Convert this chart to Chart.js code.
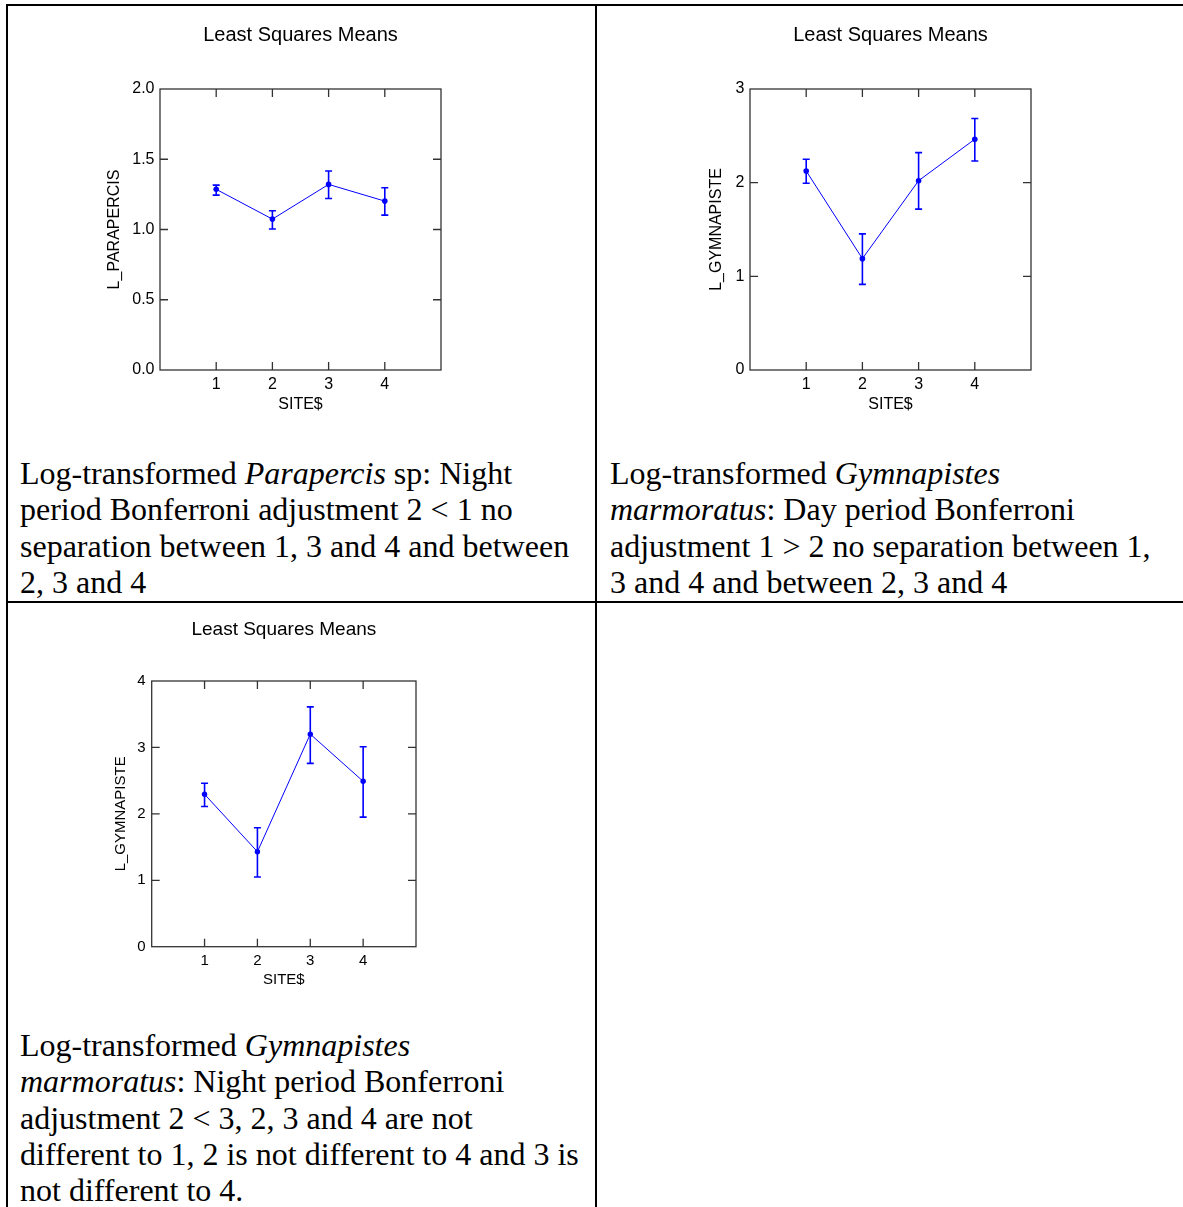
<!DOCTYPE html>
<html>
<head>
<meta charset="utf-8">
<script src="https://cdn.jsdelivr.net/npm/chart.js@4.4.1/dist/chart.umd.min.js"></script>
<style>
  body { margin: 0; background: #fff; }
  #page { position: relative; width: 1183px; height: 1207px; overflow: hidden; }
  .hl, .vl { position: absolute; background: #000; }
  canvas { position: absolute; }
  .note {
    position: absolute;
    font-family: "Liberation Serif", "Times New Roman", serif;
    font-size: 32px;
    line-height: 36.3px;
    white-space: nowrap;
    color: #000;
  }
</style>
</head>
<body>
<div id="page">
  <div class="hl" style="left:6px; top:4px; width:1177px; height:2px;"></div>
  <div class="hl" style="left:6px; top:601px; width:1177px; height:2px;"></div>
  <div class="vl" style="left:6px; top:4px; width:2px; height:1203px;"></div>
  <div class="vl" style="left:595px; top:4px; width:2px; height:1203px;"></div>

  <canvas id="c1" width="580" height="420" style="left:10px; top:10px;"></canvas>
  <canvas id="c2" width="580" height="420" style="left:600px; top:10px;"></canvas>
  <canvas id="c3" width="580" height="400" style="left:10px; top:610px;"></canvas>

  <div class="note" style="left:20px; top:455px;">
    Log-transformed <i>Parapercis</i> sp: Night<br>
    period Bonferroni adjustment 2 &lt; 1 no<br>
    separation between 1, 3 and 4 and between<br>
    2, 3 and 4
  </div>
  <div class="note" style="left:610px; top:455px;">
    Log-transformed <i>Gymnapistes</i><br>
    <i>marmoratus</i>: Day period Bonferroni<br>
    adjustment 1 &gt; 2 no separation between 1,<br>
    3 and 4 and between 2, 3 and 4
  </div>
  <div class="note" style="left:20px; top:1027px;">
    Log-transformed <i>Gymnapistes</i><br>
    <i>marmoratus</i>: Night period Bonferroni<br>
    adjustment 2 &lt; 3, 2, 3 and 4 are not<br>
    different to 1, 2 is not different to 4 and 3 is<br>
    not different to 4.
  </div>
</div>

<script>
const siteTicks = [1, 2, 3, 4];

// L_PARAPERCIS, night
const parMean = [1.286, 1.074, 1.321, 1.202];
const parLow  = [1.245, 1.004, 1.221, 1.102];
const parHigh = [1.316, 1.133, 1.416, 1.297];

// L_GYMNAPISTE, day
const gymDayMean = [2.125, 1.189, 2.021, 2.464];
const gymDayLow  = [1.993, 0.914, 1.718, 2.232];
const gymDayHigh = [2.250, 1.453, 2.321, 2.685];

// L_GYMNAPISTE, night
const gymNightMean = [2.295, 1.43, 3.20, 2.49];
const gymNightLow  = [2.11, 1.05, 2.76, 1.95];
const gymNightHigh = [2.46, 1.79, 3.61, 3.01];

const BLUE = '#0000ff';
const SANS = 'Arial, "Liberation Sans", sans-serif';

// error bars drawn under the points
const errorBars = {
  id: 'errorBars',
  beforeDatasetsDraw(chart) {
    const ctx = chart.ctx;
    const xs = chart.scales.x, ys = chart.scales.y;
    chart.data.datasets.forEach(ds => {
      if (!ds.errLow) return;
      ctx.save();
      ctx.strokeStyle = BLUE;
      ctx.lineWidth = 1.6;
      ds.data.forEach((p, i) => {
        const x = xs.getPixelForValue(p.x);
        const y1 = ys.getPixelForValue(ds.errLow[i]);
        const y2 = ys.getPixelForValue(ds.errHigh[i]);
        ctx.beginPath();
        ctx.moveTo(x, y1); ctx.lineTo(x, y2);
        ctx.moveTo(x - 3.5, y1); ctx.lineTo(x + 3.5, y1);
        ctx.moveTo(x - 3.5, y2); ctx.lineTo(x + 3.5, y2);
        ctx.stroke();
      });
      ctx.restore();
    });
  }
};

// box around the plot with inward ticks on all four sides
const frame = {
  id: 'frame',
  afterDraw(chart) {
    const ctx = chart.ctx;
    const a = chart.chartArea;
    const xs = chart.scales.x, ys = chart.scales.y;
    const len = 8;
    ctx.save();
    ctx.strokeStyle = '#333';
    ctx.lineWidth = 1.3;
    ctx.strokeRect(a.left, a.top, a.right - a.left, a.bottom - a.top);
    ctx.beginPath();
    xs.ticks.forEach(t => {
      const x = xs.getPixelForValue(t.value);
      ctx.moveTo(x, a.bottom); ctx.lineTo(x, a.bottom - len);
      ctx.moveTo(x, a.top); ctx.lineTo(x, a.top + len);
    });
    ys.ticks.forEach(t => {
      const y = ys.getPixelForValue(t.value);
      if (t.value === ys.min || t.value === ys.max) return;
      ctx.moveTo(a.left, y); ctx.lineTo(a.left + len, y);
      ctx.moveTo(a.right, y); ctx.lineTo(a.right - len, y);
    });
    ctx.stroke();
    ctx.restore();
  }
};

function makeChart(id, o) {
  return new Chart(document.getElementById(id), {
    type: 'scatter',
    data: {
      datasets: [{
        data: siteTicks.map((s, i) => ({ x: s, y: o.mean[i] })),
        errLow: o.low,
        errHigh: o.high,
        showLine: true,
        borderColor: BLUE,
        borderWidth: 1,
        backgroundColor: BLUE,
        pointRadius: o.pr,
        pointBorderWidth: 0
      }]
    },
    options: {
      responsive: false,
      animation: false,
      events: [],
      layout: { padding: o.pad },
      plugins: {
        legend: { display: false },
        tooltip: { enabled: false },
        title: {
          display: true,
          text: 'Least Squares Means',
          color: '#000',
          fullSize: false,
          font: { family: SANS, size: o.titleSize, weight: 'normal' },
          padding: o.titlePad
        }
      },
      scales: {
        x: {
          type: 'linear',
          min: 0, max: 5,
          afterBuildTicks: s => { s.ticks = siteTicks.map(v => ({ value: v })); },
          afterFit: s => { s.height = o.xH; },
          grid: { display: false, drawTicks: false, tickLength: 0 },
          border: { display: false },
          ticks: { color: '#000', padding: o.xTickPad, maxRotation: 0,
                   font: { family: SANS, size: o.fs } },
          title: { display: true, text: 'SITE$', color: '#000',
                   font: { family: SANS, size: o.fs }, padding: { top: 0, bottom: o.xTitlePad } }
        },
        y: {
          min: 0, max: o.yMax,
          afterFit: s => { s.width = o.yW; },
          grid: { display: false, drawTicks: false, tickLength: 0 },
          border: { display: false },
          ticks: { color: '#000', stepSize: o.yStep, padding: o.yTickPad,
                   font: { family: SANS, size: o.fs },
                   callback: v => v.toFixed(o.dec) },
          title: { display: true, text: o.yLabel, color: '#000',
                   font: { family: SANS, size: o.fs }, padding: { top: 0, bottom: 0 } }
        }
      }
    },
    plugins: [errorBars, frame]
  });
}

makeChart('c1', {
  mean: parMean, low: parLow, high: parHigh,
  yLabel: 'L_PARAPERCIS', yMax: 2, yStep: 0.5, dec: 1,
  pad: { left: 95.4, right: 149, top: 0, bottom: 10 },
  yW: 54.6, xH: 50, fs: 16, titleSize: 20, titlePad: { top: 13, bottom: 42 },
  xTickPad: 5, xTitlePad: 5.4, yTickPad: 5.5, pr: 2.8
});

makeChart('c2', {
  mean: gymDayMean, low: gymDayLow, high: gymDayHigh,
  yLabel: 'L_GYMNAPISTE', yMax: 3, yStep: 1, dec: 0,
  pad: { left: 107.4, right: 149, top: 0, bottom: 10 },
  yW: 42.6, xH: 50, fs: 16, titleSize: 20, titlePad: { top: 13, bottom: 42 },
  xTickPad: 5, xTitlePad: 5.4, yTickPad: 5.5, pr: 2.8
});

makeChart('c3', {
  mean: gymNightMean, low: gymNightLow, high: gymNightHigh,
  yLabel: 'L_GYMNAPISTE', yMax: 4, yStep: 1, dec: 0,
  pad: { left: 102, right: 174, top: 0, bottom: 13.3 },
  yW: 39.7, xH: 50, fs: 15, titleSize: 19, titlePad: { top: 8.6, bottom: 39.6 },
  xTickPad: 5, xTitlePad: 7.7, yTickPad: 6, pr: 2.7
});
</script>
</body>
</html>
